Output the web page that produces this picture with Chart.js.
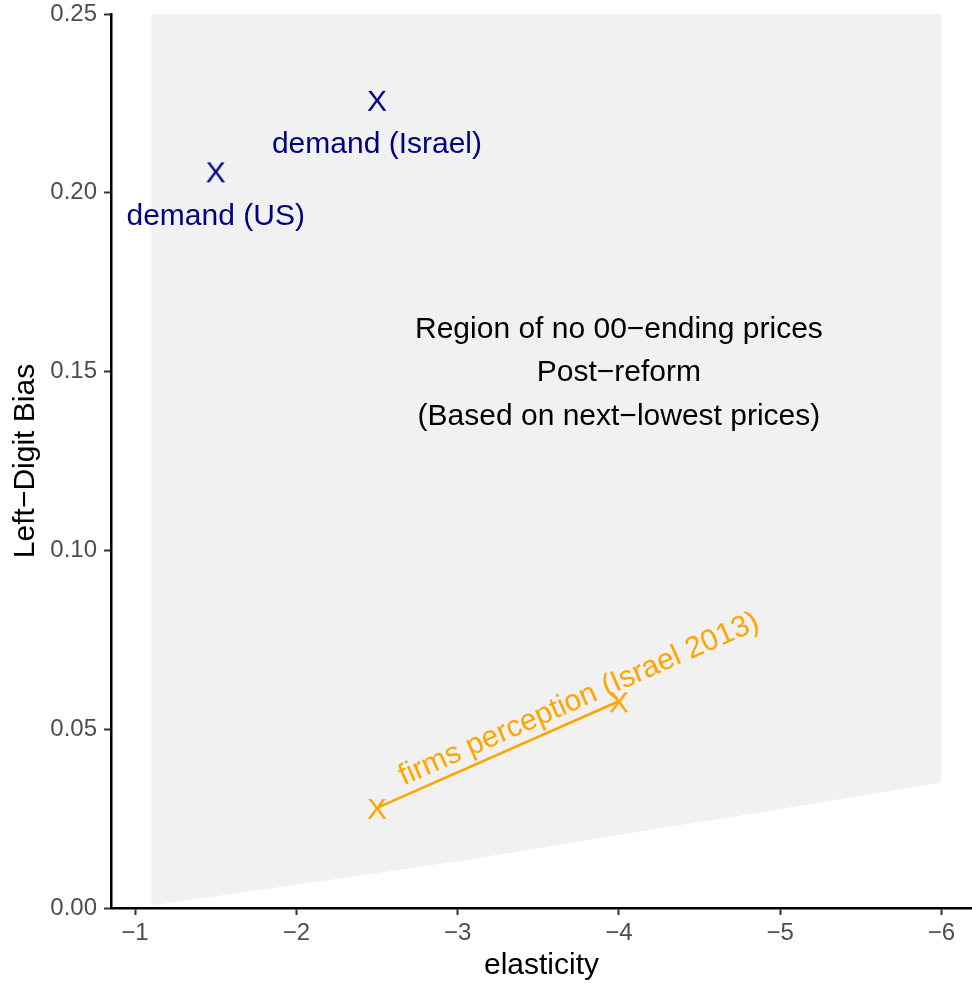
<!DOCTYPE html>
<html>
<head>
<meta charset="utf-8">
<script src="https://cdn.jsdelivr.net/npm/chart.js@4.4.1/dist/chart.umd.min.js"></script>
<style>
  html, body { margin: 0; padding: 0; background: #fff; }
  canvas { display: block; }
</style>
</head>
<body>
<canvas id="c" width="972" height="984"></canvas>
<script>
// Shaded region where no 00-ending prices occur: elasticity grid and its bias bounds
const regionElasticity = [-1.1, -2, -3, -4, -5, -6];
const regionLowerBias  = [0.0007, 0.0065, 0.0131, 0.0204, 0.0277, 0.0351];
const regionUpperBias  = [0.25, 0.25, 0.25, 0.25, 0.25, 0.25];

// Demand-side estimates
const demandLabels     = ['demand (US)', 'demand (Israel)'];
const demandElasticity = [-1.5, -2.5];
const demandBias       = [0.206, 0.226];

// Firms' perceived left-digit bias
const firmsLabel       = 'firms perception (Israel 2013)';
const firmsElasticity  = [-2.5, -4];
const firmsBias        = [0.028, 0.0578];

const regionNote = [
  'Region of no 00\u2212ending prices',
  'Post\u2212reform',
  '(Based on next\u2212lowest prices)'
];

const xTicks = [-1, -2, -3, -4, -5, -6];
const yTicks = [0, 0.05, 0.10, 0.15, 0.20, 0.25];

const FONT = '"Liberation Sans", Arial, Helvetica, sans-serif';
const NAVY = '#000080';
const ORANGE = '#FFA500';
Chart.defaults.font.family = FONT;

// "X" glyph used as a point marker
function glyphMarker(color) {
  const c = document.createElement('canvas');
  c.width = 30; c.height = 30;
  const g = c.getContext('2d');
  g.font = '30px ' + FONT;
  g.fillStyle = color;
  g.textAlign = 'center';
  g.textBaseline = 'alphabetic';
  g.fillText('X', 15, 15 + 30 * 0.716 / 2);
  return c;
}

// text centred on its cap height
function capText(ctx, text, x, y, size, color, angle) {
  ctx.save();
  ctx.translate(x, y);
  if (angle) ctx.rotate(angle);
  ctx.font = size + 'px ' + FONT;
  ctx.fillStyle = color;
  ctx.textAlign = 'center';
  ctx.textBaseline = 'alphabetic';
  ctx.fillText(text, 0, size * 0.716 / 2);
  ctx.restore();
}

const annotations = {
  id: 'annotations',
  afterDatasetsDraw(chart) {
    const { ctx, scales: { x, y } } = chart;
    // region note, three lines centred at elasticity -4
    const noteY = [0.1625, 0.1504, 0.1380];
    regionNote.forEach((t, i) => capText(ctx, t, x.getPixelForValue(-4), y.getPixelForValue(noteY[i]), 30, '#000'));
    // demand labels just below their markers
    demandLabels.forEach((t, i) => {
      capText(ctx, t, x.getPixelForValue(demandElasticity[i]), y.getPixelForValue(demandBias[i] - 0.012), 30, NAVY);
    });
    // firms label along its segment
    const x0 = x.getPixelForValue(firmsElasticity[0]), y0 = y.getPixelForValue(firmsBias[0]);
    const x1 = x.getPixelForValue(firmsElasticity[1]), y1 = y.getPixelForValue(firmsBias[1]);
    const ang = Math.atan2(y1 - y0, x1 - x0);
    capText(ctx, firmsLabel, x.getPixelForValue(-3.746), y.getPixelForValue(0.059), 30, ORANGE, ang);
  }
};

new Chart(document.getElementById('c'), {
  type: 'scatter',
  data: {
    datasets: [
      {
        type: 'line',
        data: regionElasticity.map((v, i) => ({ x: v, y: regionLowerBias[i] })),
        borderColor: 'rgba(0,0,0,0)', borderWidth: 0, pointRadius: 0,
        fill: false, tension: 0, order: 5
      },
      {
        type: 'line',
        data: regionElasticity.map((v, i) => ({ x: v, y: regionUpperBias[i] })),
        borderColor: 'rgba(0,0,0,0)', borderWidth: 0, pointRadius: 0,
        fill: '-1', backgroundColor: '#f1f1f1', tension: 0, order: 4
      },
      {
        type: 'line',
        data: firmsElasticity.map((v, i) => ({ x: v, y: firmsBias[i] })),
        borderColor: ORANGE, borderWidth: 2.6, fill: false, tension: 0,
        pointStyle: glyphMarker(ORANGE), pointRadius: 15, order: 2
      },
      {
        type: 'scatter',
        data: demandElasticity.map((v, i) => ({ x: v, y: demandBias[i] })),
        pointStyle: glyphMarker(NAVY), pointRadius: 15, order: 1
      }
    ]
  },
  options: {
    responsive: false,
    animation: false,
    events: [],
    layout: { autoPadding: false, padding: { top: 14, right: 0, bottom: 0, left: 0 } },
    plugins: { legend: { display: false }, tooltip: { enabled: false } },
    scales: {
      x: {
        type: 'linear', reverse: true, min: -6.189, max: -0.851,
        afterBuildTicks: s => { s.ticks = xTicks.map(v => ({ value: v })); },
        afterFit: s => { s.height = 76; s.paddingLeft = 0; s.paddingRight = 0; },
        border: { display: true, color: '#000', width: 2.5 },
        grid: { drawOnChartArea: false, drawTicks: true, tickLength: 7, tickWidth: 2, tickColor: '#333' },
        ticks: { color: '#4d4d4d', font: { size: 24 }, padding: 4, maxRotation: 0, autoSkip: false,
                 callback: v => '\u2212' + Math.abs(v) },
        title: { display: true, text: 'elasticity', color: '#000', font: { size: 30 }, padding: { top: 0, bottom: 0 } }
      },
      y: {
        type: 'linear', min: 0, max: 0.25,
        afterBuildTicks: s => { s.ticks = yTicks.map(v => ({ value: v })); },
        afterFit: s => { s.width = 111; s.paddingTop = 0; s.paddingBottom = 0; },
        border: { display: true, color: '#000', width: 2.5 },
        grid: { drawOnChartArea: false, drawTicks: true, tickLength: 7, tickWidth: 2, tickColor: '#333' },
        ticks: { color: '#4d4d4d', font: { size: 24 }, padding: 7, autoSkip: false,
                 callback: v => v.toFixed(2) },
        title: { display: true, text: 'Left\u2212Digit Bias', color: '#000', font: { size: 30 }, padding: { top: 8, bottom: 0 } }
      }
    }
  },
  plugins: [annotations]
});
</script>
</body>
</html>
